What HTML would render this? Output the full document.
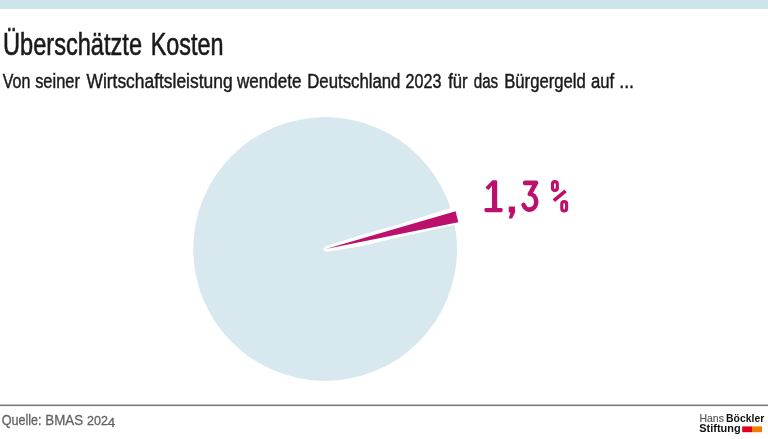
<!DOCTYPE html>
<html><head><meta charset="utf-8">
<style>
html,body{margin:0;padding:0;background:#fff;width:768px;height:439px;overflow:hidden}
svg{display:block;position:absolute;left:0;top:0;will-change:transform}
text{font-family:"Liberation Sans",sans-serif}
</style></head><body>
<svg width="768" height="439" viewBox="0 0 768 439">
<rect x="0" y="0" width="768" height="9" fill="#cde4ed"/>
<circle cx="325.15" cy="249" r="131.9" fill="#d7e9ee"/>
<polygon fill="#fff" points="322.5,249.6 326,246.3 361,234.9 401,223.7 441,210.9 480,199.2 480,219.1 441,228.1 401,236.8 361,246.2 326,252"/>
<polygon fill="#bb116d" points="325.8,249 455.6,211.2 458.3,222.3"/>
<g fill="#bb116d">
<rect x="492" y="180.4" width="5.2" height="31" rx="0.6"/>
<polygon points="492.2,180.4 496.4,180.4 488.6,190 486.2,188.4 485.6,187.3"/>
<rect x="484.5" y="207.9" width="18.1" height="4.3" rx="1.4"/>
<path d="M508.7,207.6 Q508.7,206.6 509.7,206.6 H514.1 Q515.1,206.6 515.1,207.6 V212.3 L512.2,218.6 H508.8 L510.4,212.6 H509.7 Q508.7,212.6 508.7,211.6 Z"/>
</g>
<g fill="none" stroke="#bb116d" stroke-linecap="round" stroke-linejoin="round">
<path stroke-width="4.6" d="M525.1,182.9 H536 L529.8,194 A6.6,7.8 0 1 1 523.6,205"/>
<rect stroke-width="3.2" x="552.5" y="181.7" width="4.8" height="8.8" rx="2.4"/>
<rect stroke-width="3.2" x="561.8" y="201.7" width="4.8" height="9.3" rx="2.4"/>
<path stroke-width="3.7" stroke-linecap="butt" d="M553.8,200.6 L565.6,190.9"/>
</g>
<rect x="0" y="404.5" width="768" height="1.6" fill="#7a7a7a"/>
<rect x="742.2" y="426.4" width="9.8" height="5.8" fill="#e2001a"/>
<rect x="752" y="426.4" width="10" height="5.8" fill="#f07d00"/>
<text x="3.01" y="54.60" font-size="30.50" fill="#1a1a1a" stroke="#1a1a1a" stroke-width="0.6" textLength="139.02" lengthAdjust="spacingAndGlyphs">Überschätzte</text>
<text x="150.70" y="54.60" font-size="30.50" fill="#1a1a1a" stroke="#1a1a1a" stroke-width="0.6" textLength="72.78" lengthAdjust="spacingAndGlyphs">Kosten</text>
<text x="2.75" y="88.35" font-size="20.00" fill="#1a1a1a" stroke="#1a1a1a" stroke-width="0.45" textLength="27.57" lengthAdjust="spacingAndGlyphs">Von</text>
<text x="35.15" y="88.35" font-size="20.00" fill="#1a1a1a" stroke="#1a1a1a" stroke-width="0.45" textLength="44.81" lengthAdjust="spacingAndGlyphs">seiner</text>
<text x="86.46" y="88.35" font-size="20.00" fill="#1a1a1a" stroke="#1a1a1a" stroke-width="0.45" textLength="146.13" lengthAdjust="spacingAndGlyphs">Wirtschaftsleistung</text>
<text x="237.03" y="88.35" font-size="20.00" fill="#1a1a1a" stroke="#1a1a1a" stroke-width="0.45" textLength="64.38" lengthAdjust="spacingAndGlyphs">wendete</text>
<text x="307.27" y="88.35" font-size="20.00" fill="#1a1a1a" stroke="#1a1a1a" stroke-width="0.45" textLength="93.14" lengthAdjust="spacingAndGlyphs">Deutschland</text>
<text x="405.57" y="88.35" font-size="20.00" fill="#1a1a1a" stroke="#1a1a1a" stroke-width="0.45" textLength="35.83" lengthAdjust="spacingAndGlyphs">2023</text>
<text x="448.23" y="88.35" font-size="20.00" fill="#1a1a1a" stroke="#1a1a1a" stroke-width="0.45" textLength="19.45" lengthAdjust="spacingAndGlyphs">für</text>
<text x="473.71" y="88.35" font-size="20.00" fill="#1a1a1a" stroke="#1a1a1a" stroke-width="0.45" textLength="24.48" lengthAdjust="spacingAndGlyphs">das</text>
<text x="504.17" y="88.35" font-size="20.00" fill="#1a1a1a" stroke="#1a1a1a" stroke-width="0.45" textLength="81.66" lengthAdjust="spacingAndGlyphs">Bürgergeld</text>
<text x="590.93" y="88.35" font-size="20.00" fill="#1a1a1a" stroke="#1a1a1a" stroke-width="0.45" textLength="23.20" lengthAdjust="spacingAndGlyphs">auf</text>
<text x="619.22" y="88.35" font-size="20.00" fill="#1a1a1a" stroke="#1a1a1a" stroke-width="0.45" textLength="14.85" lengthAdjust="spacingAndGlyphs">...</text>
<text x="1.68" y="424.70" font-size="15.20" fill="#626262" stroke="#626262" stroke-width="0.3" textLength="39.92" lengthAdjust="spacingAndGlyphs">Quelle:</text>
<text x="45.30" y="424.70" font-size="15.20" fill="#626262" stroke="#626262" stroke-width="0.3" textLength="37.78" lengthAdjust="spacingAndGlyphs">BMAS</text>
<text x="87.08" y="424.90" font-size="12.00" fill="#626262" stroke="#626262" stroke-width="0.3" textLength="20.81" lengthAdjust="spacingAndGlyphs">202</text>
<text x="107.81" y="427.30" font-size="12.20" fill="#626262" stroke="#626262" stroke-width="0.3" textLength="7.37" lengthAdjust="spacingAndGlyphs">4</text>
<text x="699.45" y="421.90" font-size="10.70" fill="#555" stroke="#555" stroke-width="0.15" textLength="24.50" lengthAdjust="spacingAndGlyphs">Hans</text>
<text x="726.12" y="421.90" font-size="10.70" font-weight="bold" fill="#111" textLength="38.16" lengthAdjust="spacingAndGlyphs">Böckler</text>
<text x="699.28" y="431.80" font-size="10.70" font-weight="bold" fill="#111" textLength="41.33" lengthAdjust="spacingAndGlyphs">Stiftung</text>
</svg>
</body></html>
